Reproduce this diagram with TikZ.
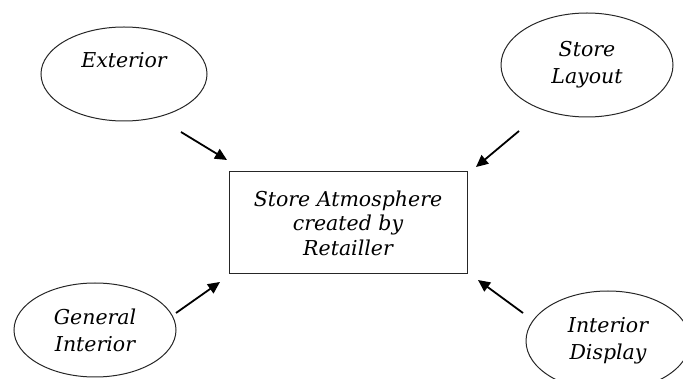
\documentclass[tikz,border=0pt]{standalone}
\usepackage{fontspec}
\setmainfont{DejaVu Serif}
\usetikzlibrary{shapes.geometric,arrows.meta}
\begin{document}
\begin{tikzpicture}[x=1pt,y=-1pt,
  txt/.style={font=\fontsize{20.5}{27}\selectfont\itshape, align=center},
  oval/.style={txt, draw=black!85, line width=1pt, ellipse, inner sep=0pt},
  mainbox/.style={txt, font=\fontsize{20.5}{24.5}\selectfont\itshape, draw=black!85, line width=1pt, rectangle, minimum width=238pt, minimum height=102pt, inner sep=0pt},
  arr/.style={line width=1.8pt, -{Triangle[length=12pt,width=11pt]}}]
\useasboundingbox (0,0) rectangle (683,379);
\clip (0,0) rectangle (683,379);
\node[mainbox] (box) at (348,223) {Store Atmosphere\\created by\\Retailler};
\node[oval, minimum width=166pt, minimum height=94pt] (ext) at (124,74) {Exterior\\[-8pt]\strut};
\node[oval, minimum width=172pt, minimum height=104pt] (lay) at (587,65) {Store\\Layout};
\node[oval, minimum width=162pt, minimum height=94pt] (gen) at (95,330) {General\\Interior};
\node[oval, minimum width=164pt, minimum height=100pt] (disp) at (608,341) {Interior\\Display};
\coordinate (a1) at (181,132); \coordinate (b1) at (227,160);
\coordinate (a2) at (519,131); \coordinate (b2) at (476,167);
\coordinate (a3) at (176,313); \coordinate (b3) at (220,282);
\coordinate (a4) at (523,313); \coordinate (b4) at (478,280);
\draw[arr] (a1) -- (b1);
\draw[arr] (a2) -- (b2);
\draw[arr] (a3) -- (b3);
\draw[arr] (a4) -- (b4);
\end{tikzpicture}
\end{document}
